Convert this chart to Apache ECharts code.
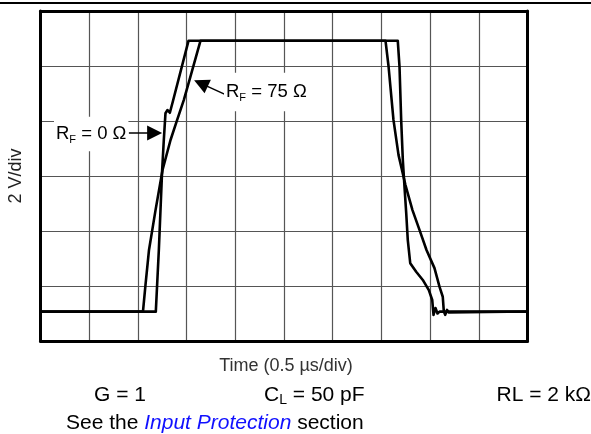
<!DOCTYPE html>
<html>
<head>
<meta charset="utf-8">
<script src="https://cdn.jsdelivr.net/npm/echarts@6/dist/echarts.min.js"></script>
<style>
html,body{margin:0;padding:0;background:#fff;}
#c{width:591px;height:434px;}
</style>
</head>
<body>
<div id="c"></div>
<script>
// Time in µs (0.5 µs/div), voltage in V (2 V/div)
const rf0Time = [0, 1.184, 1.215, 1.249, 1.266, 1.283, 1.304, 1.328, 1.358, 1.520, 3.668, 3.686, 3.703, 3.720, 3.737, 3.755, 3.771, 3.796, 3.857, 3.925, 3.987, 4.022, 4.035, 4.055, 4.076, 4.097, 5.0];
const rf0Volt = [-4.93, -4.93, -2.69, 0.22, 1.31, 2.28, 2.40, 2.30, 2.70, 4.92, 4.92, 3.97, 2.04, 0.58, -0.39, -1.36, -2.33, -3.17, -3.48, -3.78, -4.15, -4.51, -5.05, -4.80, -5.00, -4.93, -4.93];
const rf75Time = [0, 1.052, 1.078, 1.114, 1.181, 1.253, 1.335, 1.403, 1.471, 1.535, 1.643, 3.542, 3.573, 3.624, 3.676, 3.747, 3.819, 3.891, 3.963, 4.045, 4.097, 4.130, 4.141, 4.155, 4.174, 4.189, 4.209, 5.0];
const rf75Volt = [-4.93, -4.93, -3.96, -2.69, -1.24, 0.22, 1.31, 2.04, 2.76, 3.56, 4.92, 4.92, 4.00, 2.04, 0.76, -0.33, -1.24, -1.96, -2.69, -3.35, -4.03, -4.39, -4.93, -5.05, -4.87, -4.96, -4.93, -4.93];

const xMin = 0, xMax = 5, xStep = 0.5;
const yMin = -6, yMax = 6, yStep = 2;

// annotation arrows (data coordinates): [tailT, tailV, headT, headV]
const arrowRF0 = [0.907, 1.56, 1.172, 1.56];
const arrowRF75 = [1.905, 2.95, 1.647, 3.37];

const labelRF0 = ['R', 'F', ' = 0 Ω'];
const labelRF75 = ['R', 'F', ' = 75 Ω'];
const xTitle = 'Time (0.5 µs/div)';
const yTitle = '2 V/div';
const condG = 'G = 1';
const condCL = ['C', 'L', ' = 50 pF'];
const condRL = 'RL = 2 kΩ';
const noteParts = ['See the ', 'Input Protection', ' section'];

const zip = (a, b) => a.map((v, i) => [v, b[i]]);
const FONT = 'Liberation Sans, Arial, sans-serif';

const chart = echarts.init(document.getElementById('c'), null, {renderer: 'canvas'});

const frameLine = {show: true, onZero: false, lineStyle: {color: '#000', width: 3}};
const gridLine = {show: true, showMinLine: false, showMaxLine: false, lineStyle: {color: '#555', width: 1.2}};

function arrowLine(a) {
  return {
    silent: true,
    symbol: ['none', 'triangle'],
    symbolSize: [15, 15],
    label: {show: false},
    lineStyle: {color: '#000', width: 1.5, type: 'solid'},
    data: [[{coord: [a[0], a[1]]}, {coord: [a[2], a[3]]}]]
  };
}

function subRich(parts, size, subSize) {
  return {
    text: '{a|' + parts[0] + '}{b|' + parts[1] + '}{a|' + parts[2] + '}',
    rich: {
      a: {fontSize: size, fontFamily: FONT, fill: '#000', lineHeight: size + 4},
      b: {fontSize: subSize, fontFamily: FONT, fill: '#000', verticalAlign: 'bottom'}
    }
  };
}

chart.setOption({
  animation: false,
  backgroundColor: '#fff',
  grid: {left: 40.5, top: 11, right: 63.5, bottom: 93, containLabel: false},
  xAxis: [
    {type: 'value', min: xMin, max: xMax, interval: xStep, position: 'bottom',
     axisLine: frameLine, axisTick: {show: false}, axisLabel: {show: false}, splitLine: gridLine},
    {type: 'value', min: xMin, max: xMax, interval: xStep, position: 'top',
     axisLine: frameLine, axisTick: {show: false}, axisLabel: {show: false}, splitLine: {show: false}}
  ],
  yAxis: [
    {type: 'value', min: yMin, max: yMax, interval: yStep, position: 'left',
     axisLine: frameLine, axisTick: {show: false}, axisLabel: {show: false}, splitLine: gridLine},
    {type: 'value', min: yMin, max: yMax, interval: yStep, position: 'right',
     axisLine: frameLine, axisTick: {show: false}, axisLabel: {show: false}, splitLine: {show: false}}
  ],
  series: [
    {type: 'line', name: 'RF=0', data: zip(rf0Time, rf0Volt), showSymbol: false, symbol: 'none',
     lineStyle: {color: '#000', width: 2.6, join: 'round'}, z: 3, markLine: arrowLine(arrowRF0)},
    {type: 'line', name: 'RF=75', data: zip(rf75Time, rf75Volt), showSymbol: false, symbol: 'none',
     lineStyle: {color: '#000', width: 2.6, join: 'round'}, z: 3, markLine: arrowLine(arrowRF75)}
  ],
  graphic: [
    {type: 'line', shape: {x1: 0, y1: 3, x2: 591, y2: 3}, style: {stroke: '#000', lineWidth: 2}, z: 10},
    {type: 'text', x: 16, y: 176, rotation: Math.PI / 2, z: 10,
     style: {text: yTitle, fontSize: 18, fontFamily: FONT, fill: '#222', align: 'center', verticalAlign: 'middle'}},
    {type: 'text', x: 286, y: 366, z: 10,
     style: {text: xTitle, fontSize: 18, fontFamily: FONT, fill: '#333', align: 'center', verticalAlign: 'middle'}},
    {type: 'text', x: 54, y: 134, z: 10,
     style: Object.assign(subRich(labelRF0, 18.5, 11), {align: 'left', verticalAlign: 'middle', backgroundColor: '#fff', padding: [6, 2, 6, 2]})},
    {type: 'text', x: 224, y: 92, z: 10,
     style: Object.assign(subRich(labelRF75, 18.5, 11), {align: 'left', verticalAlign: 'middle', backgroundColor: '#fff', padding: [8, 2, 8, 2]})},
    {type: 'text', x: 94, y: 395, z: 10,
     style: {text: condG, fontSize: 21, fontFamily: FONT, fill: '#000', align: 'left', verticalAlign: 'middle'}},
    {type: 'text', x: 264, y: 395, z: 10,
     style: Object.assign(subRich(condCL, 21, 14), {align: 'left', verticalAlign: 'middle'})},
    {type: 'text', x: 591, y: 395, z: 10,
     style: {text: condRL, fontSize: 21, fontFamily: FONT, fill: '#000', align: 'right', verticalAlign: 'middle'}},
    {type: 'text', x: 66, y: 423, z: 10,
     style: {
       text: '{n|' + noteParts[0] + '}{l|' + noteParts[1] + '}{n|' + noteParts[2] + '}',
       align: 'left', verticalAlign: 'middle',
       rich: {
         n: {fontSize: 21, fontFamily: FONT, fill: '#000'},
         l: {fontSize: 21, fontFamily: FONT, fill: '#1010ff', fontStyle: 'italic'}
       }
     }}
  ]
});
</script>
</body>
</html>
